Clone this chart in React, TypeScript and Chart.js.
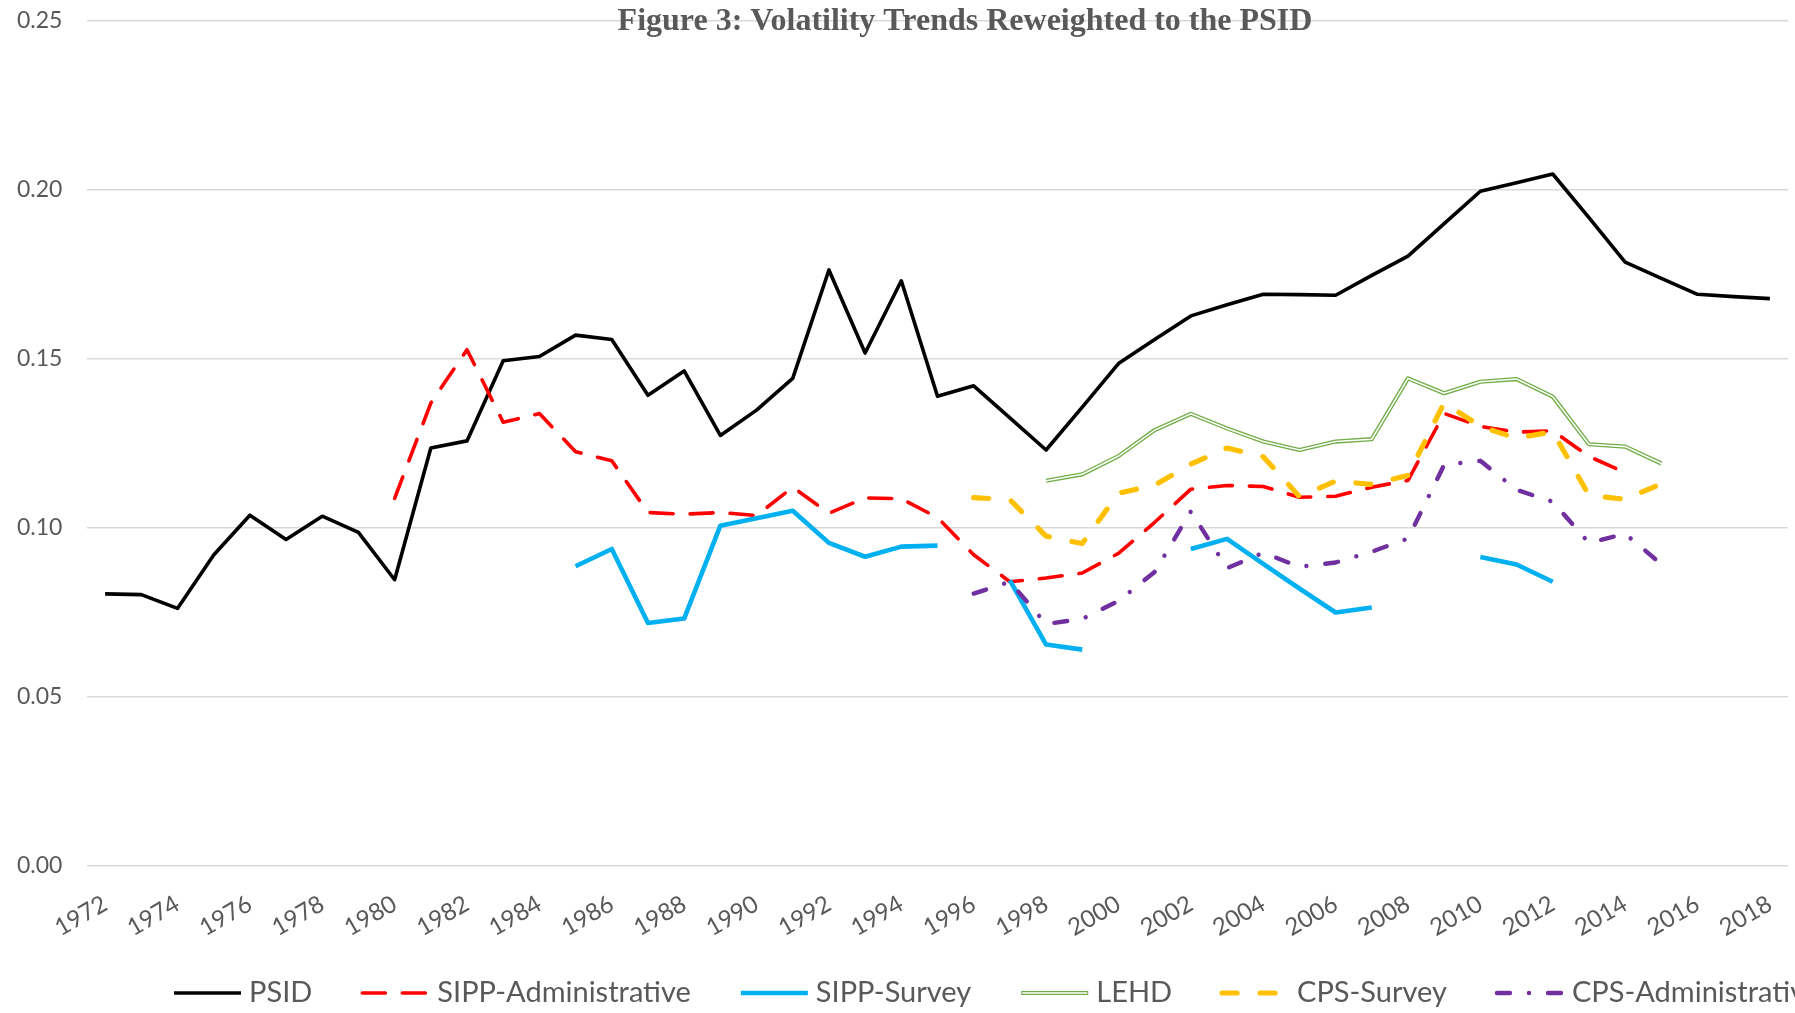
import React, { useEffect, useRef } from "react";
import { Chart, registerables } from "chart.js";

Chart.register(...registerables);

const years = [
  "1972", "1973", "1974", "1975", "1976", "1977", "1978", "1979", "1980", "1981",
  "1982", "1983", "1984", "1985", "1986", "1987", "1988", "1989", "1990", "1991",
  "1992", "1993", "1994", "1995", "1996", "1997", "1998", "1999", "2000", "2001",
  "2002", "2003", "2004", "2005", "2006", "2007", "2008", "2009", "2010", "2011",
  "2012", "2013", "2014", "2015", "2016", "2017", "2018",
];

const shownTickLabels = [
  "1972", "1974", "1976", "1978", "1980", "1982", "1984", "1986", "1988", "1990",
  "1992", "1994", "1996", "1998", "2000", "2002", "2004", "2006", "2008", "2010",
  "2012", "2014", "2016", "2018",
];

const yTicks = [0, 0.05, 0.1, 0.15, 0.2, 0.25];

const psid = [
  0.0804, 0.0802, 0.0761, 0.0919, 0.1037, 0.0965, 0.1034, 0.0986, 0.0846, 0.1236,
  0.1257, 0.1494, 0.1507, 0.157, 0.1557, 0.1392, 0.1464, 0.1273, 0.1348, 0.1442,
  0.1763, 0.1517, 0.1731, 0.1389, 0.142, 0.1325, 0.123, 0.1357, 0.1486, 0.1557,
  0.1627, 0.166, 0.1691, 0.169, 0.1688, 0.1747, 0.1804, 0.19, 0.1996, 0.2021,
  0.2047, 0.1918, 0.1786, 0.1738, 0.1691, 0.1684, 0.1678,
];

const sippAdmin = [
  null, null, null, null, null, null, null, null, 0.1087, 0.1369,
  0.1527, 0.1312, 0.1338, 0.1225, 0.1198, 0.1045, 0.104, 0.1045, 0.1036, 0.112,
  0.1043, 0.1088, 0.1086, 0.103, 0.092, 0.084, 0.0851, 0.0866, 0.0924, 0.1016,
  0.1114, 0.1125, 0.1122, 0.109, 0.1093, 0.112, 0.114, 0.1338, 0.13, 0.1283,
  0.1287, 0.1211, 0.1163, null, null, null, null,
];

const sippSurvey = [
  null, null, null, null, null, null, null, null, null, null,
  null, null, null, 0.0886, 0.0937, 0.0718, 0.0731, 0.1006, 0.1028, 0.105,
  0.0955, 0.0914, 0.0944, 0.0947, null, 0.0844, 0.0654, 0.0639, null, null,
  0.0937, 0.0967, 0.0893, 0.082, 0.0749, 0.0764, null, null, 0.0913, 0.0891,
  0.084, null, null, null, null, null, null,
];

const lehd = [
  null, null, null, null, null, null, null, null, null, null,
  null, null, null, null, null, null, null, null, null, null,
  null, null, null, null, null, null, 0.1139, 0.1158, 0.1212, 0.1289,
  0.1337, 0.1294, 0.1255, 0.123, 0.1255, 0.1262, 0.1442, 0.1398, 0.1432, 0.144,
  0.1388, 0.1247, 0.124, 0.119, null, null, null,
];

const cpsSurvey = [
  null, null, null, null, null, null, null, null, null, null,
  null, null, null, null, null, null, null, null, null, null,
  null, null, null, null, 0.1089, 0.1083, 0.0975, 0.0953, 0.1102, 0.1126,
  0.1188, 0.1236, 0.121, 0.1092, 0.1138, 0.1128, 0.1155, 0.137, 0.13, 0.1265,
  0.1284, 0.1096, 0.1084, 0.113, null, null, null,
];

const cpsAdmin = [
  null, null, null, null, null, null, null, null, null, null,
  null, null, null, null, null, null, null, null, null, null,
  null, null, null, null, 0.0805, 0.084, 0.0715, 0.073, 0.0783, 0.0869,
  0.1048, 0.088, 0.0926, 0.0884, 0.0897, 0.0929, 0.0968, 0.1186, 0.1198, 0.1112,
  0.1077, 0.0955, 0.0982, 0.0892, null, null, null,
];

const TITLE = "Figure 3: Volatility Trends Reweighted to the PSID";
const TEXT_GRAY = "#595959";
const FONT = "Lato";

type Style = {
  label: string;
  data: (number | null)[];
  color: string;
  width: number;
  dash: number[];
  cap: CanvasLineCap;
  double?: boolean;
};

const series: Style[] = [
  { label: "PSID", data: psid, color: "#000000", width: 3.6, dash: [], cap: "butt" },
  { label: "SIPP-Administrative", data: sippAdmin, color: "#FF0000", width: 3.6, dash: [23, 17], cap: "round" },
  { label: "SIPP-Survey", data: sippSurvey, color: "#00B0F0", width: 4.6, dash: [], cap: "butt" },
  { label: "LEHD", data: lehd, color: "#70AD47", width: 4.2, dash: [], cap: "butt", double: true },
  { label: "CPS-Survey", data: cpsSurvey, color: "#FFC000", width: 5.2, dash: [15, 23], cap: "round" },
  { label: "CPS-Administrative", data: cpsAdmin, color: "#7030A0", width: 4.4, dash: [13, 19, 0.01, 19], cap: "round" },
];

const titlePlugin = {
  id: "figTitle",
  afterDraw(chart: any) {
    const ctx = chart.ctx as CanvasRenderingContext2D;
    ctx.save();
    ctx.font = 'bold 32px "Liberation Serif"';
    ctx.fillStyle = TEXT_GRAY;
    ctx.textAlign = "center";
    ctx.textBaseline = "middle";
    ctx.fillText(TITLE, 965, 22);
    ctx.restore();
  },
};

const legendPlugin = {
  id: "lineLegend",
  afterDraw(chart: any) {
    const ctx = chart.ctx as CanvasRenderingContext2D;
    ctx.save();
    ctx.font = `29px ${FONT}`;
    ctx.textBaseline = "middle";
    const y = 993;
    const len = 67;
    let x = 174;
    for (const s of series) {
      ctx.beginPath();
      ctx.moveTo(x, y);
      ctx.lineTo(x + len, y);
      ctx.strokeStyle = s.color;
      ctx.lineWidth = s.width;
      ctx.lineCap = s.cap;
      ctx.setLineDash(s.dash);
      ctx.stroke();
      if (s.double) {
        ctx.beginPath();
        ctx.moveTo(x + 1, y);
        ctx.lineTo(x + len - 1, y);
        ctx.strokeStyle = "#ffffff";
        ctx.lineWidth = 1.6;
        ctx.setLineDash([]);
        ctx.stroke();
      }
      ctx.setLineDash([]);
      x += len + 8;
      ctx.fillStyle = TEXT_GRAY;
      ctx.fillText(s.label, x, y);
      x += ctx.measureText(s.label).width + 50;
    }
    ctx.restore();
  },
};

export default function App() {
  const ref = useRef<HTMLCanvasElement | null>(null);

  useEffect(() => {
    if (!ref.current) return;
    const datasets: any[] = [];
    series.forEach((s, i) => {
      datasets.push({
        label: s.label,
        data: s.data,
        borderColor: s.color,
        backgroundColor: s.color,
        borderWidth: s.width,
        borderDash: s.dash,
        borderCapStyle: s.cap,
        borderJoinStyle: "round",
        pointRadius: 0,
        tension: 0,
        fill: false,
        spanGaps: false,
        order: 10 - i * 1.5,
      });
      if (s.double) {
        datasets.push({
          label: s.label + "-inner",
          data: s.data,
          borderColor: "#ffffff",
          borderWidth: 1.6,
          pointRadius: 0,
          tension: 0,
          fill: false,
          order: 10 - i * 1.5 - 0.5,
        });
      }
    });

    const chart = new Chart(ref.current, {
      type: "line",
      data: { labels: years, datasets },
      options: {
        animation: false,
        responsive: true,
        maintainAspectRatio: false,
        devicePixelRatio: 1,
        layout: { padding: { top: 21, right: 7, left: 17, bottom: 0 } },
        plugins: {
          legend: { display: false },
          title: { display: false },
          tooltip: { enabled: false },
        },
        scales: {
          x: {
            type: "category",
            offset: true,
            grid: { display: false, drawTicks: true, tickLength: 24 },
            border: { display: false },
            ticks: {
              autoSkip: false,
              maxRotation: 30,
              minRotation: 30,
              padding: 0,
              color: TEXT_GRAY,
              font: { family: FONT, size: 24 },
              callback: (_v: any, idx: number) =>
                shownTickLabels.includes(years[idx]) ? years[idx] : "",
            },
            afterFit: (scale: any) => {
              scale.height = 1013 - 865.5;
            },
          },
          y: {
            min: 0,
            max: 0.25,
            afterBuildTicks: (scale: any) => {
              scale.ticks = yTicks.map((v) => ({ value: v }));
            },
            grid: { color: "#D9D9D9", lineWidth: 1.4, drawTicks: false },
            border: { display: false },
            ticks: {
              padding: 0,
              crossAlign: "far",
              color: TEXT_GRAY,
              font: { family: FONT, size: 23 },
              callback: (v: any) => Number(v).toFixed(2),
            },
            afterFit: (scale: any) => {
              scale.width = 70;
            },
          },
        },
      },
      plugins: [titlePlugin, legendPlugin],
    });
    return () => chart.destroy();
  }, []);

  return (
    <div
      style={{
        position: "fixed",
        left: 0,
        top: 0,
        width: 1795,
        height: 1013,
        background: "#ffffff",
      }}
    >
      <canvas ref={ref} />
    </div>
  );
}
